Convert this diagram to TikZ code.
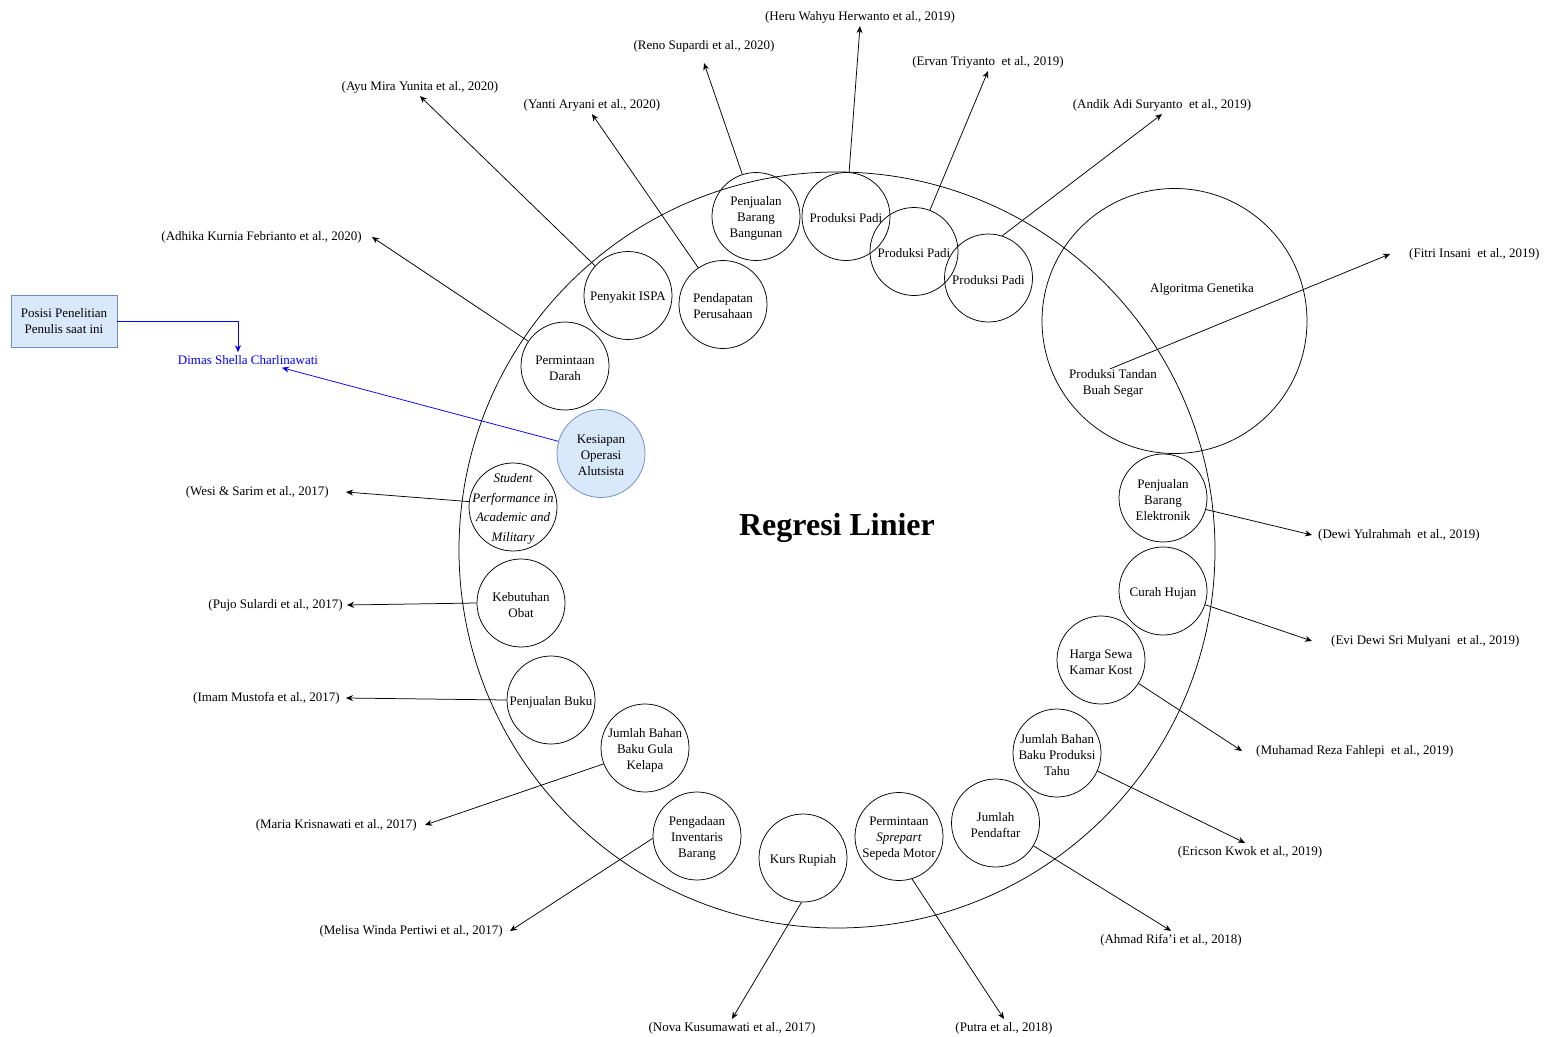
\documentclass[tikz,border=0pt]{standalone}
\usepackage{fontspec}
\setmainfont{Liberation Serif}
\usetikzlibrary{arrows.meta}
\definecolor{bfill}{HTML}{DAE8FC}
\definecolor{bline}{HTML}{6C8EBF}
\definecolor{dblue}{HTML}{0000FF}
\begin{document}
\begin{tikzpicture}[x=1pt,y=-1pt,
  every node/.style={font=\fontsize{13}{16}\selectfont},
  topic/.style={circle,draw,line width=0.75pt,minimum size=88pt,inner sep=0pt},
  txt/.style={align=center,inner sep=0pt,yshift=-2pt,font=\fontsize{13}{16}\selectfont},
  ref/.style={inner sep=3pt,yshift=-2pt},
  conn/.style={line width=0.75pt,-{Stealth[length=7pt,width=6pt]}},
]
\useasboundingbox (0,0) rectangle (1547,1036);

% main circle
\node[circle,draw,line width=0.75pt,minimum size=756pt,inner sep=0pt] (big) at (837,550) {};
\node[font=\fontsize{32}{38}\selectfont\bfseries] (title) at (837,528) {Regresi Linier};

% algoritma genetika
\node[circle,draw,line width=0.75pt,minimum size=265pt,inner sep=0pt] (alg) at (1174.5,321) {};
\node[txt] (algtxt) at (1202,287) {Algoritma Genetika};
\node[txt] (ptbs) at (1113,381) {Produksi Tandan\\Buah Segar};

% topic circles
\node[topic,label={[txt]center:Penjualan\\Barang\\Bangunan}] (pjbb) at (756,216.5) {};
\node[topic,label={[txt]center:Produksi Padi}] (pp1) at (846,216.5) {};
\node[topic,label={[txt]center:Produksi Padi}] (pp2) at (914,251.5) {};
\node[topic,label={[txt]center:Produksi Padi}] (pp3) at (988.5,278) {};
\node[topic,label={[txt]center:Penjualan\\Barang\\Elektronik}] (elek) at (1163,498) {};
\node[topic,label={[txt]center:Curah Hujan}] (curah) at (1163,591) {};
\node[topic,label={[txt]center:Harga Sewa\\Kamar Kost}] (kost) at (1101,660) {};
\node[topic,label={[txt]center:Jumlah Bahan\\Baku Produksi\\Tahu}] (tahu) at (1057,753) {};
\node[topic,label={[txt]center:Jumlah\\Pendaftar}] (daftar) at (995.5,823) {};
\node[topic,label={[txt]center:Permintaan\\\textit{Sprepart}\\Sepeda Motor}] (spre) at (899,836.5) {};
\node[topic,label={[txt]center:Kurs Rupiah}] (kurs) at (803,858) {};
\node[topic,label={[txt]center:Pengadaan\\Inventaris\\Barang}] (inv) at (697,836) {};
\node[topic,label={[txt]center:Jumlah Bahan\\Baku Gula\\Kelapa}] (gula) at (645,748) {};
\node[topic,label={[txt]center:Penjualan Buku}] (buku) at (551,700) {};
\node[topic,label={[txt]center:Kebutuhan\\Obat}] (obat) at (521,603) {};
\node[topic,label={[txt,font=\fontsize{13}{19.5}\selectfont\itshape]center:Student\\Performance in\\Academic and\\Military}] (stud) at (513,507) {};
\node[topic,fill=bfill,draw=bline,label={[txt]center:Kesiapan\\Operasi\\Alutsista}] (kes) at (601,453.5) {};
\node[topic,label={[txt]center:Permintaan\\Darah}] (darah) at (565,366) {};
\node[topic,label={[txt]center:Penyakit ISPA}] (ispa) at (628,295.5) {};
\node[topic,label={[txt]center:Pendapatan\\Perusahaan}] (pend) at (723,304.5) {};

% reference labels
\node[ref] (heru) at (860,15) {(Heru Wahyu Herwanto et al., 2019)};
\node[ref] (reno) at (704,44) {(Reno Supardi et al., 2020)};
\node[ref] (ervan) at (988,60) {(Ervan Triyanto\ \ et al., 2019)};
\node[ref] (andik) at (1162,103) {(Andik Adi Suryanto\ \ et al., 2019)};
\node[ref] (ayu) at (420,85) {(Ayu Mira Yunita et al., 2020)};
\node[ref] (yanti) at (592,103) {(Yanti Aryani et al., 2020)};
\node[ref,anchor=east] (adhika) at (365,235) {(Adhika Kurnia Febrianto et al., 2020)};
\node[ref,anchor=west] (fitri) at (1406,252) {(Fitri Insani\ \ et al., 2019)};
\node[ref,anchor=west] (dewi) at (1315,533) {(Dewi Yulrahmah\ \ et al., 2019)};
\node[ref,anchor=west] (evi) at (1328,639) {(Evi Dewi Sri Mulyani\ \ et al., 2019)};
\node[ref,anchor=west] (muh) at (1253,749) {(Muhamad Reza Fahlepi\ \ et al., 2019)};
\node[ref] (eric) at (1250,850) {(Ericson Kwok et al., 2019)};
\node[ref] (ahmad) at (1171,938) {(Ahmad Rifa{\char"27}i et al., 2018)};
\node[ref] (putra) at (1004,1026) {(Putra et al., 2018)};
\node[ref] (nova) at (732,1026) {(Nova Kusumawati et al., 2017)};
\node[ref,anchor=east] (melisa) at (506,929) {(Melisa Winda Pertiwi et al., 2017)};
\node[ref,anchor=east] (maria) at (420,823) {(Maria Krisnawati et al., 2017)};
\node[ref,anchor=east] (imam) at (343,696) {(Imam Mustofa et al., 2017)};
\node[ref,anchor=east] (pujo) at (346,603) {(Pujo Sulardi et al., 2017)};
\node[ref,anchor=east] (wesi) at (332,490) {(Wesi \& Sarim et al., 2017)};

% author position
\node[draw=bline,fill=bfill,line width=0.75pt,minimum width=106pt,minimum height=52pt,align=center,inner sep=2pt] (pos) at (64,321) {Posisi Penelitian\\Penulis saat ini};
\node[ref,text=dblue] (dimas) at (248,358) {Dimas Shella Charlinawati};

% connectors
\draw[conn] (pp1.86) -- (heru.south);
\draw[conn] (pjbb.108) -- ([yshift=-8pt]reno.south);
\draw[conn] (pp2.69) -- (ervan.south);
\draw[conn] (pp3.72) -- (andik.south);
\draw[conn] (ispa.138) -- (ayu.south);
\draw[conn] (pend.124) -- (yanti.south);
\draw[conn] (darah.146) -- ([xshift=7pt]adhika.east);
\draw[conn] ([xshift=-3pt]ptbs.north) -- ([xshift=-16pt]fitri.west);
\draw[conn] (elek.345) -- ([xshift=-3pt]dewi.west);
\draw[conn] (curah.342) -- ([xshift=-16pt]evi.west);
\draw[conn] (kost.328) -- ([xshift=-11pt]muh.west);
\draw[conn] (tahu.336) -- ([xshift=-5pt]eric.north);
\draw[conn] (daftar.329) -- (ahmad.north);
\draw[conn] (spre.287) -- (putra.north);
\draw[conn] (kurs.268) -- (nova.north);
\draw[conn] (inv.183) -- ([xshift=4pt]melisa.east);
\draw[conn] (gula.201) -- ([xshift=5pt]maria.east);
\draw[conn] (buku.west) -- ([xshift=3pt]imam.east);
\draw[conn] (obat.west) -- ([xshift=1pt]pujo.east);
\draw[conn] (stud.173) -- ([xshift=14pt]wesi.east);

\draw[conn,color=dblue] (pos.east) -| ([xshift=-10pt]dimas.north);
\draw[conn,color=dblue] (kes.164) -- ([xshift=34pt]dimas.south);
\end{tikzpicture}
\end{document}
